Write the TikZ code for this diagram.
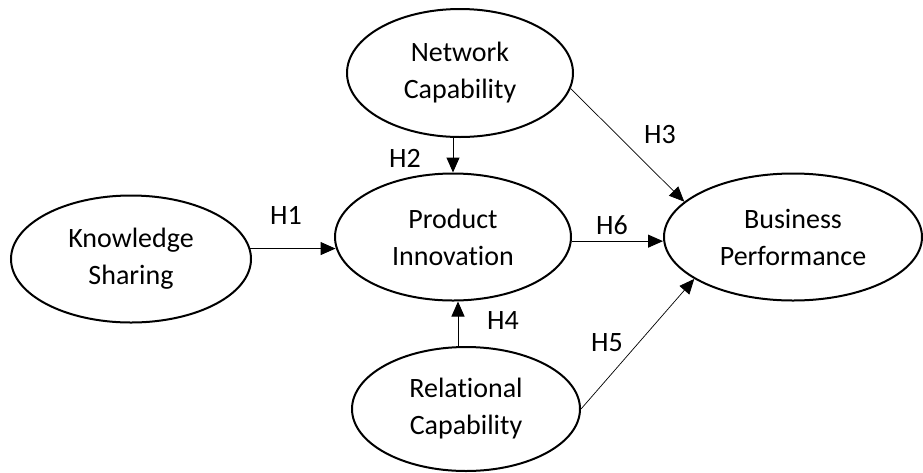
\documentclass[tikz,border=0pt]{standalone}
\usepackage{fontspec}
\setmainfont{Carlito}[Ligatures={NoCommon}]
\usetikzlibrary{arrows.meta}
\usetikzlibrary{shapes.geometric}

\begin{document}
\begin{tikzpicture}[x=1pt, y=-1pt,
  construct/.style={draw, ellipse, line width=2pt, inner sep=0pt, align=center,
    font=\fontsize{28}{37}\selectfont},
  link/.style={line width=1pt, -{Triangle[length=15pt, width=13pt]}},
  thinlink/.style={link, line width=0.7pt},
  hlabel/.style={font=\fontsize{28}{32}\selectfont, inner sep=0pt}]
\useasboundingbox (0,0) rectangle (923,472);
\node[construct, minimum width=240, minimum height=127] (ks) at (131,259) {Knowledge\\Sharing};
\node[construct, minimum width=226, minimum height=128] (nc) at (460,73)  {Network\\Capability};
\node[construct, minimum width=236, minimum height=127] (pi) at (453,237) {Product\\Innovation};
\node[construct, minimum width=228, minimum height=124] (rc) at (466,409) {Relational\\Capability};
\node[construct, minimum width=258, minimum height=127] (bp) at (793,237) {Business\\Performance};
% hypotheses
\draw[link] (ks.5) -- (ks.5 -| pi.185);
\draw[link] (pi.north |- nc.south) -- (pi.north);
\draw[thinlink] (nc.-8) -- (bp.162);
\draw[link] ([xshift=5pt]pi.south |- rc.north) -- ([xshift=5pt]pi.south);
\draw[thinlink] (rc.east) -- (bp.203);
\draw[link] (pi.-2) -- (pi.-2 -| bp.west);
\foreach \h/\x/\y in {1/286/215, 2/405/158, 3/660/135, 4/503/321, 5/607/343, 6/612/225} {
 \node[hlabel] (h\h) at (\x,\y) {H\h};
}
\end{tikzpicture}
\end{document}
